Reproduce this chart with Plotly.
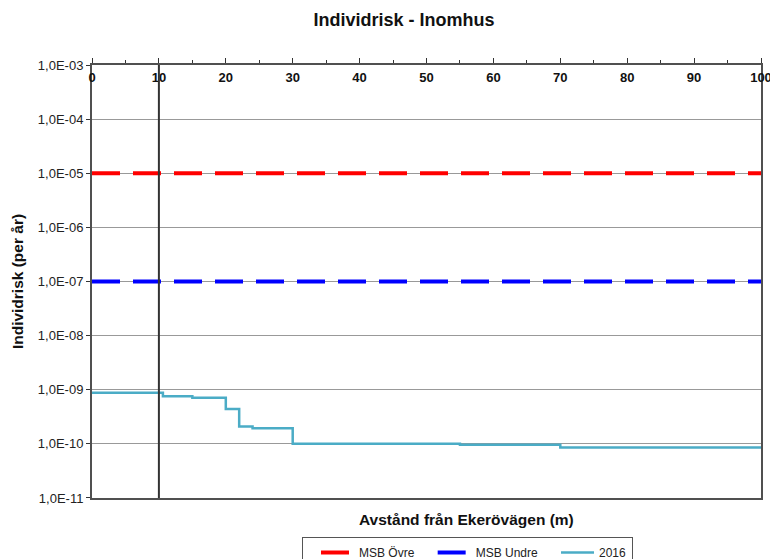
import plotly.graph_objects as go

# Distance from the road (m) and individual risk per year
avstand_2016 = [0, 10.6, 15, 20, 22, 24, 30, 55, 70, 100]
risk_2016 = [8.8e-10, 7.6e-10, 7.1e-10, 4.4e-10, 2.1e-10, 1.95e-10, 1.0e-10, 9.6e-11, 8.6e-11, 8.6e-11]

msb_x = [0, 100]
msb_ovre = [1e-5, 1e-5]
msb_undre = [1e-7, 1e-7]

# Reference distance marked with a vertical line
markering_x = 10

ytick_vals = [1e-11, 1e-10, 1e-9, 1e-8, 1e-7, 1e-6, 1e-5, 1e-4, 1e-3]
ytick_text = ["1,0E-11", "1,0E-10", "1,0E-09", "1,0E-08", "1,0E-07",
              "1,0E-06", "1,0E-05", "1,0E-04", "1,0E-03"]
xtick_vals = [0, 10, 20, 30, 40, 50, 60, 70, 80, 90, 100]

FONT = "Arial, Liberation Sans, sans-serif"

fig = go.Figure()
fig.add_trace(go.Scatter(
    x=msb_x, y=msb_ovre, mode="lines", name="MSB Övre",
    line=dict(color="#ff0000", width=4, dash="28px,13px"),
))
fig.add_trace(go.Scatter(
    x=msb_x, y=msb_undre, mode="lines", name="MSB Undre",
    line=dict(color="#0000ff", width=4, dash="28px,13px"),
))
fig.add_trace(go.Scatter(
    x=avstand_2016, y=risk_2016, mode="lines", name="2016",
    line=dict(color="#4bacc6", width=2.5, shape="hv"),
))

fig.add_shape(type="line", xref="x", yref="paper",
              x0=markering_x, x1=markering_x, y0=0, y1=1,
              line=dict(color="#333333", width=2), layer="above")

fig.update_layout(
    width=770, height=559,
    margin=dict(l=92, r=9, t=65, b=61, autoexpand=False),
    paper_bgcolor="white", plot_bgcolor="white",
    font=dict(family=FONT, size=12, color="#222222"),
    title=dict(text="<b>Individrisk - Inomhus</b>", x=404 / 770, xanchor="center",
               y=1 - 20 / 559, yanchor="middle",
               font=dict(size=18, color="#111111")),
    showlegend=True,
    legend=dict(orientation="h", x=(302 - 92) / 669, xanchor="left",
                y=(498 - 537) / 433, yanchor="top",
                bordercolor="#555555", borderwidth=1,
                font=dict(size=12, color="#222222"),
                indentation=13, itemwidth=33),
    xaxis=dict(
        range=[0, 100], side="top", type="linear",
        tickvals=xtick_vals, ticks="outside", ticklen=5, tickcolor="#333333",
        ticklabelposition="inside", ticklabeloverflow="allow",
        ticklabelstandoff=8,
        tickfont=dict(size=13, color="#111111", weight="bold"),
        showgrid=False, zeroline=False,
        showline=True, linecolor="#505050", linewidth=2, mirror=True,
        minor=dict(dtick=5, tick0=0, ticks="outside", ticklen=3, tickcolor="#333333"),
    ),
    yaxis=dict(
        type="log", range=[-11.0001, -2.9999],
        tickvals=ytick_vals, ticktext=ytick_text,
        ticks="outside", ticklen=4, tickcolor="#333333",
        tickfont=dict(size=13, color="#222222"),
        showgrid=True, gridcolor="#999999", gridwidth=1,
        zeroline=False,
        showline=True, linecolor="#505050", linewidth=2, mirror=True,
        title=dict(text="<b>Individrisk (per år)</b>", font=dict(size=15.5, color="#111111"),
                   standoff=10),
    ),
)

fig.add_annotation(
    text="<b>Avstånd från Ekerövägen (m)</b>",
    xref="paper", yref="paper",
    x=(466 - 92) / 669, y=(498 - 519) / 433,
    xanchor="center", yanchor="middle", showarrow=False,
    font=dict(size=15.5, color="#111111"),
)

fig.write_html("out.html")
